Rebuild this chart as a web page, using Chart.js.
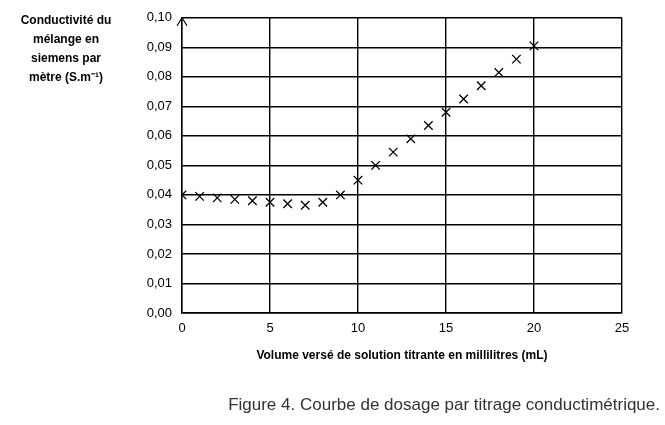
<!DOCTYPE html><html><head><style>body{margin:0;background:#fff}#w{width:665px;height:425px}</style>
<script src="https://cdn.jsdelivr.net/npm/chart.js"></script></head><body><div id="w"><canvas id="c"></canvas></div><script>
const volumes=[0,1,2,3,4,5,6,7,8,9,10,11,12,13,14,15,16,17,18,19,20];
const conductivity=[0.0400,0.0395,0.0390,0.0385,0.0380,0.0375,0.0370,0.0365,0.0375,0.0400,0.0450,0.0500,0.0545,0.0590,0.0635,0.0680,0.0725,0.0770,0.0815,0.0860,0.0905];
const yTitle=["Conductivité du","mélange en","siemens par","mètre (S.m⁻¹)"];
const xTitle="Volume versé de solution titrante en millilitres (mL)";
const caption="Figure 4. Courbe de dosage par titrage conductimétrique.";
const deco={id:'deco',afterDraw(ch){const c=ch.ctx,a=ch.chartArea;c.save();c.fillStyle='#000';c.textAlign='center';c.font='bold 12px "Liberation Sans", Arial';
yTitle.forEach((t,i)=>c.fillText(t,66,24+i*19));
c.fillText(xTitle,402,359);
c.strokeStyle='#000';c.lineWidth=1.2;c.beginPath();c.moveTo(a.left-5,a.top+8);c.lineTo(a.left,a.top);c.lineTo(a.left+5,a.top+8);c.stroke();
c.font='17px "Liberation Sans", Arial';c.textAlign='right';c.fillStyle='#333';c.fillText(caption,660,410);c.restore();}};
new Chart(document.getElementById('c'),{type:'scatter',data:{datasets:[{data:volumes.map((v,i)=>({x:v,y:conductivity[i]})),pointStyle:'crossRot',radius:6,borderColor:'#000',borderWidth:1.3,backgroundColor:'#000'}]},
options:{animation:false,responsive:true,maintainAspectRatio:false,layout:{padding:{top:17,right:43}},plugins:{legend:{display:false},tooltip:{enabled:false}},
scales:{x:{type:'linear',min:0,max:25,ticks:{stepSize:5,color:'#000',font:{size:13,family:'"Liberation Sans", Arial'},padding:8},grid:{color:'#000',lineWidth:1.4,drawTicks:false,tickLength:0},border:{color:'#000',width:1.4},afterFit(s){s.height=112}},
y:{min:0,max:0.1,ticks:{stepSize:0.01,color:'#000',padding:10,font:{size:13,family:'"Liberation Sans", Arial'},callback:v=>v.toFixed(2).replace('.',',')},grid:{color:'#000',lineWidth:1.4,drawTicks:false},border:{color:'#000',width:1.4},afterFit(s){s.width=182}}}},plugins:[deco]});
</script></body></html>
